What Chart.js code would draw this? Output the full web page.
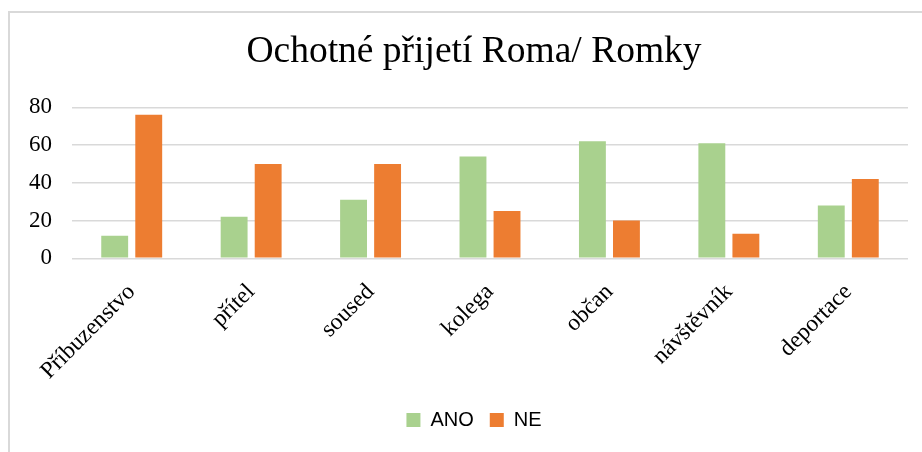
<!DOCTYPE html>
<html>
<head>
<meta charset="utf-8">
<script src="https://cdn.jsdelivr.net/npm/chart.js@4/dist/chart.umd.min.js"></script>
<style>
  html, body { margin: 0; padding: 0; background: #fff; overflow: hidden; width: 922px; height: 452px; }
  #frame { position: absolute; left: 8px; top: 11px; width: 1000px; height: 500px;
           border-left: 2px solid #d9d9d9; border-top: 2px solid #d9d9d9; }
  #c { position: absolute; left: 10px; top: 12px; }
</style>
</head>
<body>
<div id="frame"></div>
<canvas id="c" width="928" height="440"></canvas>
<script>
const categories = ["Příbuzenstvo", "přítel", "soused", "kolega", "občan", "návštěvník", "deportace"];
const seriesNames = ["ANO", "NE"];
const anoValues = [12, 22, 31, 54, 62, 61, 28];
const neValues = [76, 50, 50, 25, 20, 13, 42];
const yTicks = [0, 20, 40, 60, 80];
const titleText = "Ochotné přijetí Roma/ Romky";

const serif = "'Liberation Serif', 'Times New Roman', serif";

new Chart(document.getElementById('c'), {
  type: 'bar',
  data: {
    labels: categories,
    datasets: [
      { label: seriesNames[0], data: anoValues, backgroundColor: '#A9D18E', borderWidth: 0,
        categoryPercentage: 0.57, barPercentage: 0.79 },
      { label: seriesNames[1], data: neValues, backgroundColor: '#ED7D31', borderWidth: 0,
        categoryPercentage: 0.57, barPercentage: 0.79 }
    ]
  },
  options: {
    responsive: false,
    animation: false,
    devicePixelRatio: 1,
    layout: { padding: { left: 0, right: 0, top: 0, bottom: 12 } },
    plugins: {
      title: {
        display: true, text: titleText, color: '#000',
        font: { family: serif, size: 37.5, weight: 'normal', lineHeight: 1.2 },
        padding: { top: 17.8, bottom: 32.5 }
      },
      legend: {
        position: 'bottom',
        labels: {
          boxWidth: 14, boxHeight: 14, padding: 16, color: '#000',
          font: { family: "'Liberation Sans', Arial, sans-serif", size: 20 }
        }
      },
      tooltip: { enabled: false }
    },
    scales: {
      x: {
        grid: { display: false },
        border: { display: false },
        ticks: {
          color: '#000', minRotation: 45, maxRotation: 45, padding: 12, autoSkip: false,
          font: { family: serif, size: 23.5 }
        },
        afterFit: s => { s.height = 135.7; }
      },
      y: {
        min: 0, max: 80,
        afterBuildTicks: s => { s.ticks = yTicks.map(v => ({ value: v })); },
        grid: { color: '#d9d9d9', lineWidth: 1.5, drawTicks: false },
        border: { display: false },
        ticks: { color: '#000', padding: 20, font: { family: serif, size: 23 } },
        afterFit: s => { s.width = 62; }
      },
      y2: {
        position: 'right', display: true,
        grid: { display: false }, border: { display: false },
        ticks: { display: false },
        afterFit: s => { s.width = 30; }
      }
    }
  }
});
</script>
</body>
</html>
